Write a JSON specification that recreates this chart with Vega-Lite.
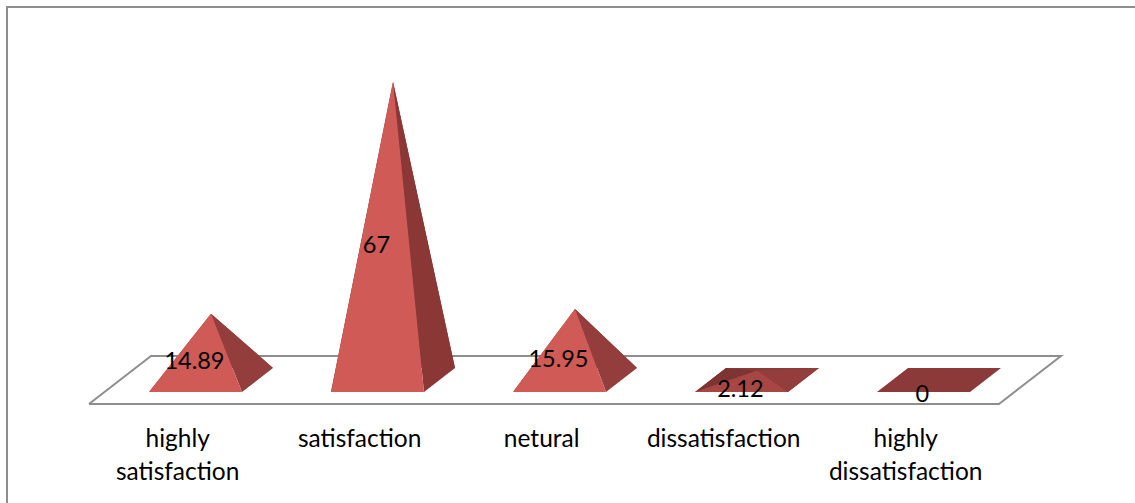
{
  "$schema": "https://vega.github.io/schema/vega-lite/v6.json",
  "width": 1128,
  "height": 498,
  "autosize": "none",
  "padding": {"left": 7, "top": 7, "right": 0, "bottom": 0},
  "background": "white",
  "view": {"stroke": null, "fill": "white"},
  "config": {"text": {"font": "Lato"}},
  "data": {"values": [
    {"category": "highly\nsatisfaction", "value": 14.89},
    {"category": "satisfaction", "value": 67},
    {"category": "netural", "value": 15.95},
    {"category": "dissatisfaction", "value": 2.12},
    {"category": "highly\ndissatisfaction", "value": 0}
  ]},
  "transform": [{"window": [{"op": "row_number", "as": "slot"}]}],
  "encoding": {
    "x": {"field": "px", "type": "quantitative", "axis": null, "scale": {"domain": [-0.0357, 6.162], "nice": false, "zero": false}},
    "y": {"field": "py", "type": "quantitative", "axis": null, "scale": {"domain": [-28.09, 83.82], "nice": false, "zero": false}}
  },
  "layer": [
    {
      "data": {"values": [
        {"corner": 1, "px": -0.0357, "py": -28.09},
        {"corner": 2, "px": -0.0357, "py": 83.82},
        {"corner": 3, "px": 6.162, "py": 83.82}
      ]},
      "mark": {"type": "line", "stroke": "#8e8e8e", "strokeWidth": 2, "clip": false},
      "encoding": {"order": {"field": "corner"}}
    },
    {
      "data": {"values": [
        {"corner": 1, "px": 0.4148, "py": -5.39},
        {"corner": 2, "px": 5.4148, "py": -5.39},
        {"corner": 3, "px": 5.7555, "py": 5.39},
        {"corner": 4, "px": 0.7555, "py": 5.39},
        {"corner": 5, "px": 0.4148, "py": -5.39}
      ]},
      "mark": {"type": "line", "stroke": "#8e8e8e", "strokeWidth": 2},
      "encoding": {"order": {"field": "corner"}}
    },
    {
      "transform": [
        {"filter": "datum.value < 5"},
        {"calculate": "[[-0.2555,-2.7,-2.7],[-0.0852,2.7,-2.7],[0.2555,2.7,-2.7],[0.4258,2.7,2.7]]", "as": "v"},
        {"flatten": ["v"]},
        {"calculate": "datum.slot+datum.v[0]", "as": "px"},
        {"calculate": "datum.v[1]", "as": "py"},
        {"calculate": "datum.v[2]", "as": "py2"}
      ],
      "mark": {"type": "area", "orient": "vertical", "fill": "#8b3a39"},
      "encoding": {"detail": {"field": "slot"}, "y2": {"field": "py2"}}
    },
    {
      "transform": [
        {"filter": "datum.value > 0"},
        {"calculate": "[[-0.2555,-2.7,-2.7],[-0.0852,2.7,(datum.value-2.7)/2],[0.0852,datum.value,datum.value]]", "as": "v"},
        {"flatten": ["v"]},
        {"calculate": "datum.slot+datum.v[0]", "as": "px"},
        {"calculate": "datum.v[1]", "as": "py"},
        {"calculate": "datum.v[2]", "as": "py2"}
      ],
      "mark": {"type": "area", "orient": "vertical", "fill": "#7d3534"},
      "encoding": {"detail": {"field": "slot"}, "y2": {"field": "py2"}}
    },
    {
      "transform": [
        {"filter": "datum.value > 0"},
        {"calculate": "[[-0.0852,2.7,2.7],[0.0852,2.7,datum.value],[0.4258,2.7,2.7]]", "as": "v"},
        {"flatten": ["v"]},
        {"calculate": "datum.slot+datum.v[0]", "as": "px"},
        {"calculate": "datum.v[1]", "as": "py"},
        {"calculate": "datum.v[2]", "as": "py2"}
      ],
      "mark": {"type": "area", "orient": "vertical", "fill": "#8a3a39"},
      "encoding": {"detail": {"field": "slot"}, "y2": {"field": "py2"}}
    },
    {
      "transform": [
        {"filter": "datum.value > 0"},
        {"calculate": "[[0.0852,datum.value,datum.value],[0.2555,(datum.value+2.7)/2,-2.7],[0.4258,2.7,2.7]]", "as": "v"},
        {"flatten": ["v"]},
        {"calculate": "datum.slot+datum.v[0]", "as": "px"},
        {"calculate": "datum.v[1]", "as": "py"},
        {"calculate": "datum.v[2]", "as": "py2"}
      ],
      "mark": {"type": "area", "orient": "vertical"},
      "encoding": {
        "detail": {"field": "slot"},
        "y2": {"field": "py2"},
        "fill": {"condition": {"test": "datum.value > 30", "value": "#8a3736"}, "value": "#933d3c"}
      }
    },
    {
      "transform": [
        {"filter": "datum.value > 0"},
        {"calculate": "[[-0.2555,-2.7,-2.7],[0.0852,datum.value,-2.7],[0.2555,-2.7,-2.7]]", "as": "v"},
        {"flatten": ["v"]},
        {"calculate": "datum.slot+datum.v[0]", "as": "px"},
        {"calculate": "datum.v[1]", "as": "py"},
        {"calculate": "datum.v[2]", "as": "py2"}
      ],
      "mark": {"type": "area", "orient": "vertical"},
      "encoding": {
        "detail": {"field": "slot"},
        "y2": {"field": "py2"},
        "fill": {"condition": {"test": "datum.value < 5", "value": "#a84644"}, "value": "#cf5a56"}
      }
    },
    {
      "transform": [
        {"calculate": "datum.slot-0.006", "as": "px"},
        {"calculate": "datum.value/2-3.4", "as": "py"}
      ],
      "mark": {"type": "text", "fontSize": 23.5, "color": "black", "align": "center", "baseline": "middle"},
      "encoding": {"text": {"field": "value", "type": "nominal"}}
    },
    {
      "transform": [
        {"calculate": "datum.slot-0.098", "as": "px"},
        {"calculate": "-10.8", "as": "py"}
      ],
      "mark": {"type": "text", "fontSize": 24.5, "color": "black", "align": "center", "baseline": "top", "lineBreak": "\n", "lineHeight": 33},
      "encoding": {"text": {"field": "category", "type": "nominal"}}
    }
  ]
}
